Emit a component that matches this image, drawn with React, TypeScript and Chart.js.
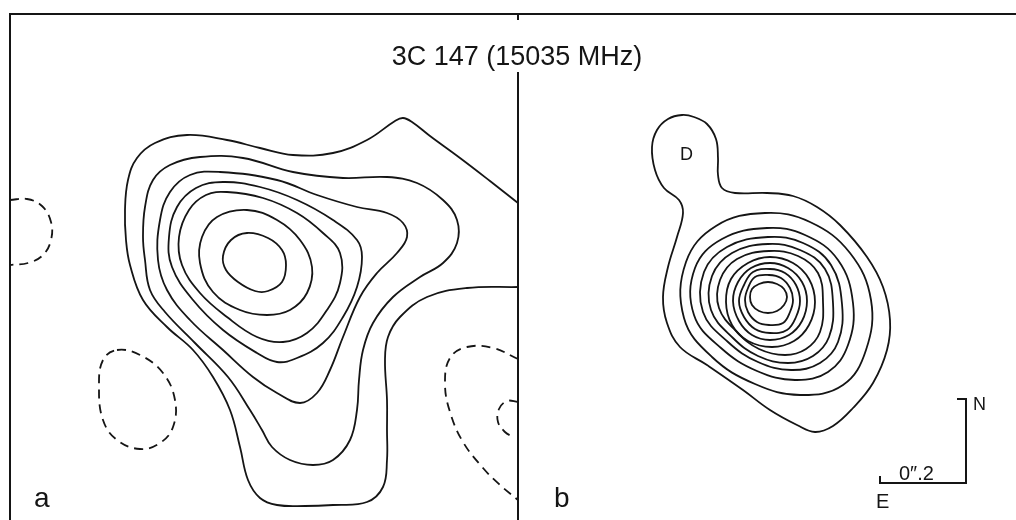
import React, { useEffect, useRef } from "react";
import { Chart, registerables } from "chart.js";

Chart.register(...registerables);

type Pt = [number, number];

// ---- Panel a : solid (positive) contours, innermost first ----
const contourA1: Pt[] = [[247,233],[268,238],[282,250],[286,265],[282,282],[268,291],[255,291],[238,282],[226,270],[223,256],[231,240]];
const contourA2: Pt[] = [[247,210],[277,220],[300,240],[312,267],[307,293],[290,310],[267,315],[240,310],[213,292],[200,263],[202,237],[217,217]];
const contourA3: Pt[] = [[227,192],[263,198],[297,213],[323,233],[340,253],[340,283],[327,310],[307,333],[283,342],[257,337],[227,317],[200,293],[182,265],[179,237],[189,210],[206,195]];
const contourA4: Pt[] = [[223,182],[260,187],[297,200],[333,220],[357,240],[362,257],[357,287],[343,317],[323,343],[297,358],[277,362],[257,353],[223,330],[193,300],[172,267],[169,237],[177,207],[196,188]];
const contourA5: Pt[] = [[220,172],[277,180],[317,195],[357,207],[387,213],[403,223],[407,237],[397,253],[377,273],[360,297],[343,337],[330,370],[317,393],[300,403],[277,393],[253,377],[223,350],[190,320],[167,290],[158,260],[160,220],[170,192],[190,175]];
const contourA6: Pt[] = [[200,157],[243,158],[293,172],[343,178],[387,177],[417,183],[443,200],[457,220],[457,243],[443,263],[420,277],[393,297],[373,323],[363,350],[359,380],[357,410],[350,440],[333,460],[313,465],[290,460],[272,447],[262,430],[250,410],[228,377],[195,343],[165,312],[150,290],[145,260],[143,237],[145,207],[153,180],[170,165]];
const contourA7: Pt[] = [[518,203],[490,181],[460,158],[430,136],[412,122],[403,118],[395,121],[367,140],[333,153],[293,155],[260,148],[227,140],[187,135],[155,143],[137,158],[128,180],[125,210],[126,240],[130,265],[143,300],[167,327],[193,350],[213,377],[230,410],[240,447],[248,480],[260,498],[277,505],[305,506],[333,505],[367,502],[383,487],[387,460],[387,430],[387,400],[385,360],[388,337],[400,317],[427,297],[467,288],[518,287]];

// ---- Panel a : dashed (negative) contours ----
const negA1: Pt[] = [[10,200],[27,199],[42,206],[51,222],[51,240],[43,255],[28,263],[10,265]];
const negA2: Pt[] = [[117,350],[140,355],[163,373],[175,400],[173,427],[160,443],[140,449],[117,440],[103,420],[99,387],[103,360]];
const negA3: Pt[] = [[518,359],[493,348],[467,347],[450,358],[445,383],[450,412],[463,442],[483,468],[500,485],[518,500]];
const negA4: Pt[] = [[518,402],[507,401],[499,409],[498,422],[505,432],[513,437]];

// ---- Panel b : outer contour with component D, then the core contours ----
const contourB0: Pt[] = [[682,115],[694,117],[707,124],[716,139],[718,158],[718,175],[722,188],[735,193],[767,193],[793,196],[817,207],[840,225],[867,257],[883,287],[890,320],[887,350],[873,383],[853,408],[833,426],[815,432],[797,425],[770,410],[743,390],[707,365],[680,347],[667,323],[663,297],[668,267],[677,237],[683,213],[679,200],[664,188],[655,170],[652,147],[657,130],[668,119]];
const contourB1: Pt[] = [[765,213],[810,222],[850,253],[871,300],[866,350],[843,385],[800,395],[755,384],[712,357],[684,318],[686,262],[716,226]];
const contourB2: Pt[] = [[767,228],[805,235],[838,260],[853,303],[848,345],[828,372],[795,380],[757,371],[721,348],[694,315],[695,268],[722,239]];
const contourB3: Pt[] = [[768,237],[803,243],[831,265],[842,304],[838,342],[820,363],[791,370],[758,362],[728,342],[703,312],[704,272],[727,247]];
const contourB4: Pt[] = [[768,244],[800,250],[825,269],[833,303],[829,337],[813,356],[788,363],[758,356],[733,338],[711,310],[712,276],[732,253]];
const contourB5: Pt[] = [[769,251],[798,256],[818,273],[823,302],[820,332],[806,349],[785,355],[759,349],[738,333],[719,308],[720,280],[737,259]];
const contourB6: Pt[] = [[770,257],[793,263],[809,279],[815,302],[809,325],[794,341],[772,347],[748,341],[732,325],[726,302],[731,279],[748,263]];
const contourB7: Pt[] = [[770,263],[788,268],[802,282],[807,301],[802,321],[789,335],[770,340],[752,335],[739,321],[733,301],[738,282],[751,268]];
const contourB8: Pt[] = [[770,269],[785,273],[796,285],[800,301],[796,317],[787,330],[770,333],[755,329],[744,317],[739,301],[744,285],[753,272]];
const contourB9: Pt[] = [[769,275],[781,278],[790,288],[793,300],[790,312],[783,323],[769,325],[757,322],[748,312],[745,300],[748,288],[755,277]];
const contourB10: Pt[] = [[768,282],[777,284],[784,289],[787,297],[784,305],[777,311],[768,313],[759,311],[752,305],[750,297],[752,289],[759,284]];

const TITLE = "3C 147 (15035 MHz)";
const SCALE_LABEL = "0\u2033.2";

const INK = "#151515";

function contourDataset(points: Pt[], closed: boolean, dashed: boolean) {
  return {
    data: points.map(([x, y]) => ({ x, y })),
    borderColor: INK,
    borderWidth: 1.8,
    borderDash: dashed ? [9, 6] : [],
    pointRadius: 0,
    tension: 0.4,
    fill: false,
    closed,
  };
}

const closedLoops = {
  id: "closedLoops",
  afterDatasetUpdate(chart: any, args: any) {
    const ds = chart.data.datasets[args.index];
    const line = args.meta.dataset;
    if (ds && ds.closed && line) {
      line._loop = true;
      line._fullLoop = true;
      line._pointsUpdated = false;
      delete line._segments;
      line._path = undefined;
    }
  },
};

const annotations = {
  id: "annotations",
  afterDatasetsDraw(chart: any) {
    const { ctx } = chart;
    const X = (v: number) => chart.scales.x.getPixelForValue(v);
    const Y = (v: number) => chart.scales.y.getPixelForValue(v);
    ctx.save();
    ctx.strokeStyle = INK;
    ctx.lineWidth = 2;
    ctx.setLineDash([]);
    ctx.beginPath();
    // frame
    ctx.moveTo(X(10), Y(520));
    ctx.lineTo(X(10), Y(14));
    ctx.lineTo(X(1016), Y(14));
    ctx.moveTo(X(518), Y(14));
    ctx.lineTo(X(518), Y(20));
    ctx.moveTo(X(518), Y(72));
    ctx.lineTo(X(518), Y(520));
    // scale bar / orientation
    ctx.moveTo(X(880), Y(476));
    ctx.lineTo(X(880), Y(483));
    ctx.lineTo(X(966), Y(483));
    ctx.lineTo(X(966), Y(399));
    ctx.lineTo(X(957), Y(399));
    ctx.stroke();

    ctx.fillStyle = INK;
    ctx.textBaseline = "alphabetic";
    const font = (s: number) => `${s}px "Liberation Sans", Arial, sans-serif`;
    ctx.font = font(27);
    ctx.textAlign = "center";
    ctx.fillText(TITLE, X(517), Y(65));
    ctx.textAlign = "left";
    ctx.font = font(28);
    ctx.fillText("a", X(34), Y(507));
    ctx.fillText("b", X(554), Y(507));
    ctx.font = font(18);
    ctx.fillText("D", X(680), Y(160));
    ctx.fillText("N", X(973), Y(410));
    ctx.font = font(20);
    ctx.fillText("E", X(876), Y(508));
    ctx.fillText(SCALE_LABEL, X(899), Y(480));
    ctx.restore();
  },
};

export default function App() {
  const ref = useRef<HTMLCanvasElement | null>(null);
  useEffect(() => {
    if (!ref.current) return;
    const solidClosed = [contourA1, contourA2, contourA3, contourA4, contourA5, contourA6,
      contourB0, contourB1, contourB2, contourB3, contourB4, contourB5, contourB6, contourB7, contourB8, contourB9, contourB10];
    const datasets: any[] = [
      ...solidClosed.map((c) => contourDataset(c, true, false)),
      contourDataset(contourA7, false, false),
      contourDataset(negA1, false, true),
      contourDataset(negA2, true, true),
      contourDataset(negA3, false, true),
      contourDataset(negA4, false, true),
    ];
    const chart = new Chart(ref.current, {
      type: "line",
      data: { datasets },
      options: {
        animation: false,
        responsive: false,
        maintainAspectRatio: false,
        devicePixelRatio: 1,
        events: [],
        layout: { padding: 0 },
        plugins: { legend: { display: false }, tooltip: { enabled: false }, title: { display: false } },
        scales: {
          x: { type: "linear", min: 0, max: 1016, display: false },
          y: { type: "linear", min: 0, max: 520, reverse: true, display: false },
        },
      },
      plugins: [closedLoops, annotations],
    } as any);
    return () => chart.destroy();
  }, []);
  return (
    <div style={{ position: "absolute", left: 0, top: 0, width: 1016, height: 520, background: "#fff" }}>
      <canvas ref={ref} width={1016} height={520} style={{ display: "block" }} />
    </div>
  );
}
